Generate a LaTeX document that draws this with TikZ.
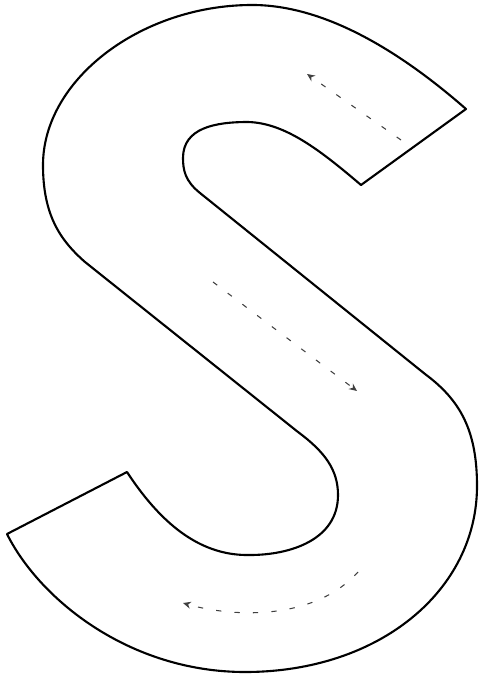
\documentclass[tikz,border=0pt]{standalone}
\usepackage{tikz}
\usetikzlibrary{arrows.meta}

\begin{document}
\begin{tikzpicture}[
        x=0.02cm, y=-0.02cm,
        outline/.style={draw=black, line width=1.2pt, line join=round},
        flow/.style={-{Stealth[length=4.5pt, width=4pt]}, black!75,
            line width=0.6pt, dash pattern=on 3pt off 7.5pt}
    ]
        \useasboundingbox (0,0) rectangle (478,675);
        % letter outline
        \draw[outline] (466,109)
            .. controls (410,60) and (330,4) .. (250,5)
            .. controls (140,6) and (43,80) .. (43,165)
            .. controls (43,215) and (60,240) .. (85,262)
            -- (298,432)
            .. controls (325,452) and (338,470) .. (338,495)
            .. controls (338,540) and (290,555) .. (250,555)
            .. controls (205,556) and (165,530) .. (127,472)
            -- (7,534)
            .. controls (40,600) and (130,672) .. (245,672)
            .. controls (380,672) and (477,590) .. (477,486)
            .. controls (477,430) and (460,400) .. (425,374)
            -- (200,193)
            .. controls (185,181) and (183,170) .. (183,158)
            .. controls (183,128) and (215,122) .. (248,122)
            .. controls (285,123) and (320,150) .. (361,185)
            -- cycle;
        % arrow ends
        \coordinate (upTail) at (401,140);
        \coordinate (upHead) at (307,74);
        \coordinate (midTail) at (213,282);
        \coordinate (midHead) at (357,391);
        \coordinate (lowTail) at (358,572);
        \coordinate (lowHead) at (183,603);
        \draw[flow] (upTail) -- (upHead);
        \draw[flow] (midTail) -- (midHead);
        \draw[flow] (lowTail) .. controls (315,620) and (235,618) .. (lowHead);
    \end{tikzpicture}
\end{document}
